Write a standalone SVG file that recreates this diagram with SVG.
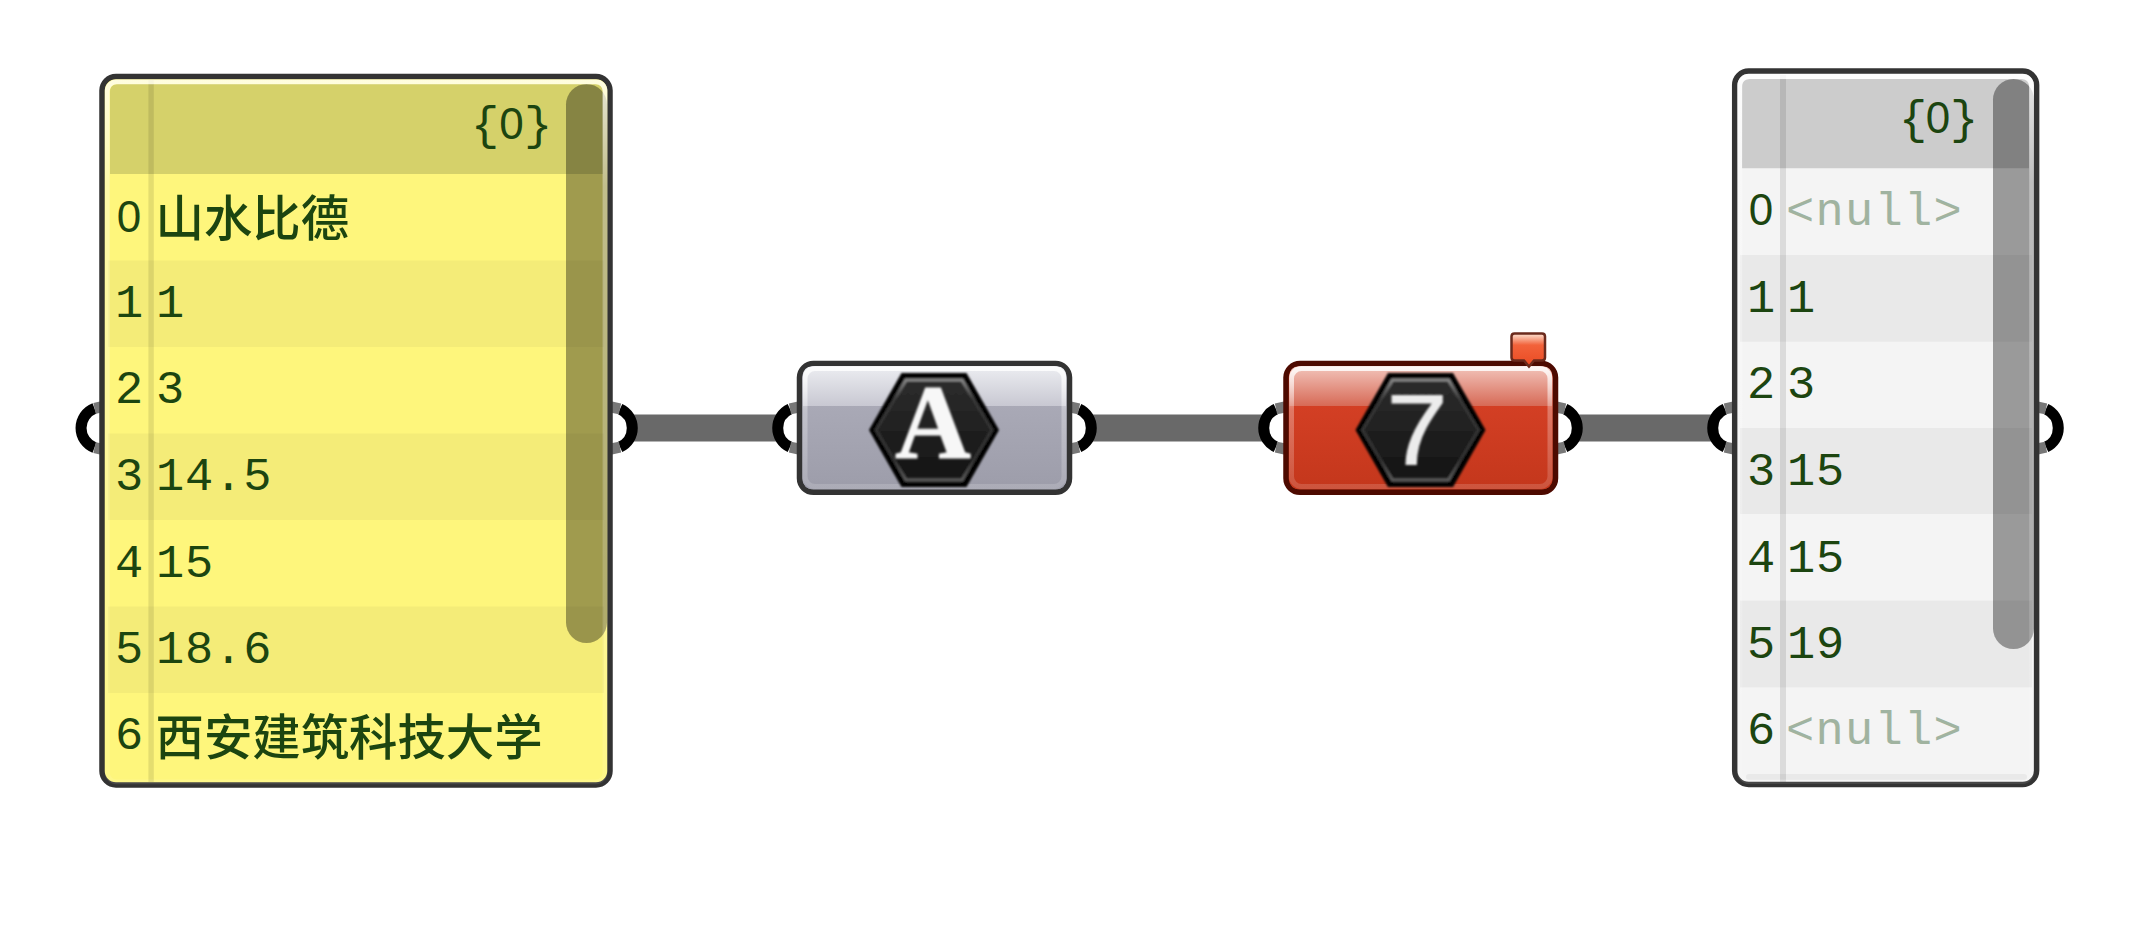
<svg xmlns="http://www.w3.org/2000/svg" width="2154" height="926" viewBox="0 0 2154 926">
<style>
.frame{stroke:#333;stroke-width:5.5}
.mono{font-family:"Liberation Mono","DejaVu Sans Mono",monospace;font-size:47px;letter-spacing:.9px;fill:#1c4510}
.idx{text-anchor:middle;letter-spacing:0}
.zero{font-family:"Liberation Sans","Noto Sans",sans-serif;font-size:44px;fill:#1c4510;text-anchor:middle}
.brace{text-anchor:middle;letter-spacing:0}
.cjk{font-family:"Noto Sans CJK SC","Noto Sans",sans-serif;font-size:48.4px;font-weight:500;fill:#1c4510}
.null{fill:#a0b3a0;font-size:47px;letter-spacing:1.3px}
.sep{fill:#000;fill-opacity:.1}
.scroll{fill:#000;fill-opacity:.37}
.ybase{fill:#fef67c}.yhead{fill:#d5d16a}.yband{fill:#f4ec78}
.ghead{fill:#ccc}.gband{fill:#e9e9e9}
.hl{fill:none;stroke:url(#hlGrad)}
.hlc{fill:none;stroke:url(#hlComp);stroke-width:5}
.wire{stroke:#696969;stroke-width:27;fill:none}
.pb{stroke:#000;stroke-width:11;fill:none}
.pg{stroke:#777;stroke-width:11;fill:none}
</style>
<defs>
<filter id="soft" x="-10%" y="-10%" width="120%" height="120%"><feGaussianBlur stdDeviation=".9"/></filter>
<linearGradient id="hlGrad" x1="0" y1="0" x2="0" y2="1">
<stop offset="0" stop-color="#fff" stop-opacity=".75"/>
<stop offset=".15" stop-color="#fff" stop-opacity=".35"/>
<stop offset="1" stop-color="#fff" stop-opacity=".1"/>
</linearGradient>
<linearGradient id="hlComp" x1="0" y1="0" x2="0" y2="1">
<stop offset="0" stop-color="#fff" stop-opacity=".85"/>
<stop offset=".35" stop-color="#fff" stop-opacity=".3"/>
<stop offset="1" stop-color="#fff" stop-opacity=".15"/>
</linearGradient>
<linearGradient id="grayTop" x1="0" y1="0" x2="0" y2="1"><stop offset="0" stop-color="#ecedf1"/><stop offset="1" stop-color="#c8c8d2"/></linearGradient>
<linearGradient id="grayBot" x1="0" y1="0" x2="0" y2="1"><stop offset="0" stop-color="#a9a9b6"/><stop offset="1" stop-color="#9d9daa"/></linearGradient>
<linearGradient id="redTop" x1="0" y1="0" x2="0" y2="1"><stop offset="0" stop-color="#f2c4bb"/><stop offset="1" stop-color="#d76a56"/></linearGradient>
<linearGradient id="redBot" x1="0" y1="0" x2="0" y2="1"><stop offset="0" stop-color="#d33f24"/><stop offset="1" stop-color="#c4371c"/></linearGradient>
<linearGradient id="hexFill" x1="0" y1="0" x2="0" y2="1"><stop offset="0" stop-color="#2c2c2c"/><stop offset="1" stop-color="#141414"/></linearGradient>
<linearGradient id="hexRing" x1="0" y1="0" x2="0" y2="1"><stop offset="0" stop-color="#8a8a8a"/><stop offset=".2" stop-color="#383838"/><stop offset=".8" stop-color="#333"/><stop offset="1" stop-color="#5c5c5c"/></linearGradient>
<linearGradient id="balloon" x1="0" y1="0" x2="0" y2="1"><stop offset="0" stop-color="#fde4d4"/><stop offset=".35" stop-color="#f2623a"/><stop offset="1" stop-color="#ea4a22"/></linearGradient>
<g id="hex" filter="url(#soft)">
<polygon points="-65,0 -32.5,-57 32.5,-57 65,0 32.5,57 -32.5,57" fill="#000"/>
<polygon points="-58,0 -28,-50 28,-50 58,0 28,50 -28,50" fill="url(#hexFill)" stroke="url(#hexRing)" stroke-width="3"/>
</g>
</defs>
<rect width="2154" height="926" fill="#fff"/>
<g id="connectors">
<path class="wire" d="M632 428H778"/>
<path class="wire" d="M1092 428H1263"/>
<path class="wire" d="M1578 428H1712"/>
</g>
<g id="panel-input">
<path class="pb" d="M94.5 408.4A21 21 0 0 0 94.5 447.6"/><path class="pg" d="M94.5 408.4L101 407M94.5 447.6L101 449"/>
<path class="pb" d="M620 408.9A21 21 0 0 1 620 447.1"/><path class="pg" d="M620 408.9L611 407M620 447.1L611 449"/>
<rect class="frame ybase" x="102" y="76.5" width="508" height="708.5" rx="14"/>
<path class="yhead" d="M110 174V92Q110 84 118 84H595Q603 84 603 92V174Z"/>
<rect class="yband" x="108" y="260.5" width="496" height="86.5"/>
<rect class="yband" x="108" y="433.5" width="496" height="86.5"/>
<rect class="yband" x="108" y="606.5" width="496" height="86.5"/>
<rect class="sep" x="148.4" y="80" width="5.4" height="702"/>
<rect class="scroll" x="566" y="84" width="41" height="559" rx="20.5"/>
<rect class="hl" x="107.3" y="81.8" width="497.7" height="700" rx="9" stroke-width="4.8"/>
<text class="mono brace" y="139"><tspan x="485">{</tspan><tspan class="zero" x="511.5">0</tspan><tspan x="538">}</tspan></text>
<text class="zero" x="129" y="231.7">0</text>
<text class="cjk" x="155.5" y="236">山水比德</text>
<text class="mono idx" x="129" y="316.7">1</text><text class="mono" x="156" y="316.7">1</text>
<text class="mono idx" x="129" y="403">2</text><text class="mono" x="156" y="403">3</text>
<text class="mono idx" x="129" y="490">3</text><text class="mono" x="156" y="490">14.5</text>
<text class="mono idx" x="129" y="576.7">4</text><text class="mono" x="156" y="576.7">15</text>
<text class="mono idx" x="129" y="662.7">5</text><text class="mono" x="156" y="662.7">18.6</text>
<text class="mono idx" x="129" y="749">6</text>
<text class="cjk" x="155.5" y="755">西安建筑科技大学</text>
</g>
<g id="text-component">
<path class="pb" d="M790 408.9A21 21 0 0 0 790 447.1"/><path class="pg" d="M790 408.9L799 407M790 447.1L799 449"/>
<path class="pb" d="M1079 408.9A21 21 0 0 1 1079 447.1"/><path class="pg" d="M1079 408.9L1070 407M1079 447.1L1070 449"/>
<rect class="frame" x="799.5" y="363.5" width="270" height="128.8" rx="14" fill="#a9a9b6"/>
<path d="M803 406V376Q803 366.5 812.5 366.5H1056.5Q1066 366.5 1066 376V406Z" fill="url(#grayTop)"/>
<path d="M803 406H1066V479Q1066 489 1056 489H813Q803 489 803 479Z" fill="url(#grayBot)"/>
<rect class="hlc" x="805" y="368.5" width="259" height="118" rx="10"/>
<use href="#hex" x="934" y="430"/>
<text x="933" y="458" text-anchor="middle" font-family="Liberation Serif, serif" font-weight="700" font-size="105" fill="#f7f7f7" stroke="#f7f7f7" stroke-width="1" filter="url(#soft)">A</text>
</g>
<g id="number-component">
<path class="pb" d="M1276 408.9A21 21 0 0 0 1276 447.1"/><path class="pg" d="M1276 408.9L1285 407M1276 447.1L1285 449"/>
<path class="pb" d="M1565 408.9A21 21 0 0 1 1565 447.1"/><path class="pg" d="M1565 408.9L1556 407M1565 447.1L1556 449"/>
<rect class="frame" x="1286" y="363.5" width="269.5" height="128.8" rx="14" fill="#c83a1f" style="stroke:#4d0a00"/>
<path d="M1289.5 406V376Q1289.5 366.5 1299 366.5H1542.5Q1552 366.5 1552 376V406Z" fill="url(#redTop)"/>
<path d="M1289.5 406H1552V479Q1552 489 1542 489H1299.5Q1289.5 489 1289.5 479Z" fill="url(#redBot)"/>
<rect class="hlc" x="1291.5" y="368.5" width="258.5" height="118" rx="10"/>
<use href="#hex" x="1420.5" y="430"/>
<text transform="translate(1417 465) scale(1.1 1)" text-anchor="middle" font-family="Liberation Sans, sans-serif" font-size="100" fill="#ececec" stroke="#ececec" stroke-width="1" filter="url(#soft)">7</text>
<path d="M1514.5 333.5H1542Q1545 333.5 1545 336.5V357.5Q1545 360.5 1542 360.5H1534L1529 366.5L1524 360.5H1514.5Q1511.5 360.5 1511.5 357.5V336.5Q1511.5 333.5 1514.5 333.5Z" fill="url(#balloon)" stroke="#6b2a1c" stroke-width="2.5"/>
</g>
<g id="panel-output">
<path class="pb" d="M1725 408.9A21 21 0 0 0 1725 447.1"/><path class="pg" d="M1725 408.9L1734 407M1725 447.1L1734 449"/>
<path class="pb" d="M2046 408.9A21 21 0 0 1 2046 447.1"/><path class="pg" d="M2046 408.9L2037 407M2046 447.1L2037 449"/>
<rect class="frame" x="1734.7" y="71" width="301.9" height="713.5" rx="14" fill="#f4f4f4"/>
<path class="ghead" d="M1742 168.3V87Q1742 79 1750 79H2021Q2029 79 2029 87V168.3Z"/>
<rect class="gband" x="1740" y="255" width="292" height="86.7"/>
<rect class="gband" x="1740" y="428" width="292" height="86"/>
<rect class="gband" x="1740" y="600.7" width="292" height="86.6"/>
<rect class="gband" x="1746" y="774" width="281" height="6" rx="3"/>
<rect class="sep" x="1780" y="75" width="6" height="707"/>
<rect class="scroll" x="1993" y="79" width="41" height="570" rx="20.5"/>
<rect class="hl" x="1739.8" y="76.5" width="291.8" height="705" rx="9" stroke-width="4.8"/>
<text class="mono brace" y="133"><tspan x="1913">{</tspan><tspan class="zero" x="1938">0</tspan><tspan x="1964">}</tspan></text>
<text class="zero" x="1761" y="225">0</text><text class="mono null" x="1786" y="225">&lt;null&gt;</text>
<text class="mono idx" x="1761" y="311.7">1</text><text class="mono" x="1787" y="311.7">1</text>
<text class="mono idx" x="1761" y="398">2</text><text class="mono" x="1787" y="398">3</text>
<text class="mono idx" x="1761" y="485">3</text><text class="mono" x="1787" y="485">15</text>
<text class="mono idx" x="1761" y="571.7">4</text><text class="mono" x="1787" y="571.7">15</text>
<text class="mono idx" x="1761" y="658">5</text><text class="mono" x="1787" y="658">19</text>
<text class="mono idx" x="1761" y="744">6</text><text class="mono null" x="1786" y="744">&lt;null&gt;</text>
</g>
</svg>
